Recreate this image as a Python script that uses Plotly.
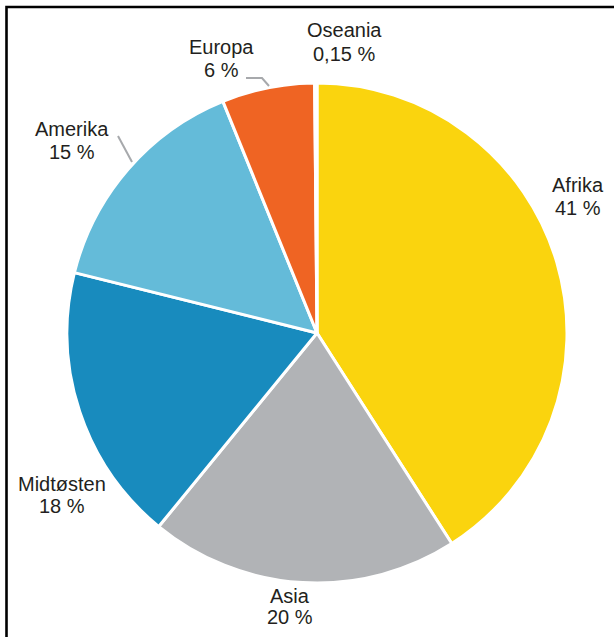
import plotly.graph_objects as go

W, H = 614, 637

regions = ["Afrika", "Asia", "Midtøsten", "Amerika", "Europa", "Oseania"]
shares = [41, 20, 18, 15, 6, 0.15]
share_labels = ["41 %", "20 %", "18 %", "15 %", "6 %", "0,15 %"]
colors = ["#FAD40E", "#B1B3B6", "#188BBE", "#64BBD9", "#EF6423", "#FFFFFF"]

# label block centres in pixels (x, y of name line, y of value line)
label_pos = {
    "Afrika": (578, 185, 208),
    "Asia": (290, 596, 617),
    "Midtøsten": (62, 484, 506),
    "Amerika": (72, 129, 152),
    "Europa": (221, 47, 70),
    "Oseania": (344, 30, 54),
}


def px(x, y):
    return x / W, 1 - y / H


fig = go.Figure()
fig.add_trace(go.Pie(
    labels=regions,
    values=shares,
    sort=False,
    direction="clockwise",
    rotation=0,
    marker=dict(colors=colors, line=dict(color="white", width=3)),
    textinfo="none",
    hoverinfo="label+text",
    text=share_labels,
    showlegend=False,
    domain=dict(x=[67 / W, 567 / W], y=[1 - 583 / H, 1 - 83 / H]),
))

annotations = []
font = dict(family="Liberation Sans, Arial, sans-serif", size=20, color="#231F20")
for name, lab in zip(regions, share_labels):
    x, y1, y2 = label_pos[name]
    for txt, yy in ((name, y1), (lab, y2)):
        ax, ay = px(x, yy)
        annotations.append(dict(
            x=ax, y=ay, xref="paper", yref="paper", text=txt, showarrow=False,
            xanchor="center", yanchor="middle", font=font,
        ))

shapes = []


def path(points):
    d = ""
    for i, (x, y) in enumerate(points):
        px_, py_ = px(x, y)
        d += ("M" if i == 0 else "L") + f"{px_},{py_} "
    return d


# leader lines
shapes.append(dict(type="path", xref="paper", yref="paper",
                   path=path([(246, 78), (262, 78), (269, 86)]),
                   line=dict(color="#A7A9AC", width=2)))
shapes.append(dict(type="path", xref="paper", yref="paper",
                   path=path([(118, 136), (132, 162)]),
                   line=dict(color="#A7A9AC", width=2)))
# frame (top and left edges visible)
shapes.append(dict(type="path", xref="paper", yref="paper",
                   path=path([(6.5, 637), (6.5, 7), (614, 7)]),
                   line=dict(color="black", width=2.6)))

fig.update_layout(
    width=W, height=H,
    margin=dict(l=0, r=0, t=0, b=0),
    paper_bgcolor="white", plot_bgcolor="white",
    annotations=annotations,
    shapes=shapes,
)

fig.write_html(
    "out.html",
    config={"displayModeBar": False},
    post_script="document.body.style.margin='0';document.body.style.overflow='hidden';",
)
